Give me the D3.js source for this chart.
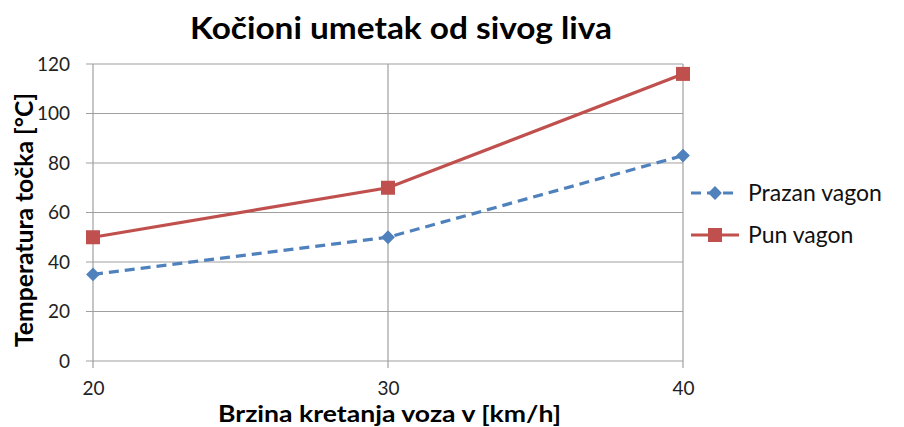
<!DOCTYPE html>
<html>
<head>
<meta charset="utf-8">
<script src="https://cdn.jsdelivr.net/npm/d3@7"></script>
<style>
  html, body { margin: 0; padding: 0; background: #fff; }
  svg { display: block; font-family: Lato, "Open Sans", sans-serif; }
</style>
</head>
<body>
<svg id="chart" width="904" height="427"></svg>
<script>
// Brzina voza (km/h) i temperature točka za prazan i pun vagon
const speeds = [20, 30, 40];
const prazanVagon = [35, 50, 83];
const punVagon = [50, 70, 116];
const yTicks = [0, 20, 40, 60, 80, 100, 120];
const seriesNames = ["Prazan vagon", "Pun vagon"];

const svg = d3.select("#chart");
const plotLeft = 93, plotRight = 683, plotTop = 64, plotBottom = 361;

const x = d3.scaleLinear().domain([20, 40]).range([plotLeft, plotRight]);
const y = d3.scaleLinear().domain([0, 120]).range([plotBottom, plotTop]);

const gridColor = "#a0a0a0";

// horizontal grid (with left tick stubs)
svg.append("g").selectAll("line").data(yTicks).join("line")
  .attr("x1", plotLeft - 7).attr("x2", plotRight)
  .attr("y1", d => y(d)).attr("y2", d => y(d))
  .attr("stroke", gridColor).attr("stroke-width", 1.2);

// vertical grid (with bottom tick stubs)
svg.append("g").selectAll("line").data(speeds).join("line")
  .attr("x1", d => x(d)).attr("x2", d => x(d))
  .attr("y1", plotTop).attr("y2", plotBottom + 7)
  .attr("stroke", gridColor).attr("stroke-width", 1.2);

// tick labels via d3 axes
const yAxis = svg.append("g").attr("transform", `translate(${plotLeft},0)`)
  .call(d3.axisLeft(y).tickValues(yTicks).tickSize(0).tickPadding(23));
const xAxis = svg.append("g").attr("transform", `translate(0,${plotBottom})`)
  .call(d3.axisBottom(x).tickValues(speeds).tickSize(0).tickPadding(21));
[yAxis, xAxis].forEach(a => {
  a.select(".domain").remove();
  a.selectAll("text").attr("font-size", 19).attr("fill", "#222")
    .attr("font-family", "Lato, sans-serif");
});

// series lines
const line = d3.line().x((d, i) => x(speeds[i])).y(d => y(d));
const blue = "#4F81BD", red = "#C0504D";

svg.append("path").datum(prazanVagon).attr("d", line)
  .attr("fill", "none").attr("stroke", blue).attr("stroke-width", 3.2)
  .attr("stroke-dasharray", "10,6");
svg.append("path").datum(punVagon).attr("d", line)
  .attr("fill", "none").attr("stroke", red).attr("stroke-width", 3.2);

const diamond = d3.symbol().type(d3.symbolSquare).size(95);
svg.append("g").selectAll("path").data(prazanVagon).join("path")
  .attr("d", diamond)
  .attr("transform", (d, i) => `translate(${x(speeds[i])},${y(d)}) rotate(45)`)
  .attr("fill", blue);
svg.append("g").selectAll("rect").data(punVagon).join("rect")
  .attr("x", (d, i) => x(speeds[i]) - 7).attr("y", d => y(d) - 7)
  .attr("width", 14).attr("height", 14).attr("fill", red);

// title
svg.append("text").attr("x", 401).attr("y", 39).attr("text-anchor", "middle")
  .attr("font-size", 30).attr("font-weight", "bold").attr("fill", "#000")
  .attr("textLength", 422).attr("lengthAdjust", "spacingAndGlyphs")
  .text("Kočioni umetak od sivog liva");

// axis titles
svg.append("text").attr("x", 389.5).attr("y", 422).attr("text-anchor", "middle")
  .attr("font-size", 22).attr("font-weight", "bold").attr("fill", "#000")
  .attr("textLength", 343).attr("lengthAdjust", "spacingAndGlyphs")
  .text("Brzina kretanja voza v [km/h]");
svg.append("text").attr("transform", "translate(33,220) rotate(-90)")
  .attr("text-anchor", "middle")
  .attr("font-size", 24).attr("font-weight", "bold").attr("fill", "#000")
  .attr("textLength", 254).attr("lengthAdjust", "spacingAndGlyphs")
  .text("Temperatura točka [°C]");

// legend
const legend = svg.append("g");
const ly = [193, 235];
legend.append("line").attr("x1", 691).attr("x2", 739).attr("y1", ly[0]).attr("y2", ly[0])
  .attr("stroke", blue).attr("stroke-width", 3.2).attr("stroke-dasharray", "10,6");
legend.append("path").attr("d", diamond)
  .attr("transform", `translate(715,${ly[0]}) rotate(45)`).attr("fill", blue);
legend.append("line").attr("x1", 691).attr("x2", 739).attr("y1", ly[1]).attr("y2", ly[1])
  .attr("stroke", red).attr("stroke-width", 3.2);
legend.append("rect").attr("x", 708).attr("y", ly[1] - 7).attr("width", 14).attr("height", 14)
  .attr("fill", red);
legend.selectAll("text").data(seriesNames).join("text")
  .attr("x", 748).attr("y", (d, i) => ly[i] + 8)
  .attr("font-size", 23).attr("fill", "#111")
  .text(d => d);
</script>
</body>
</html>
